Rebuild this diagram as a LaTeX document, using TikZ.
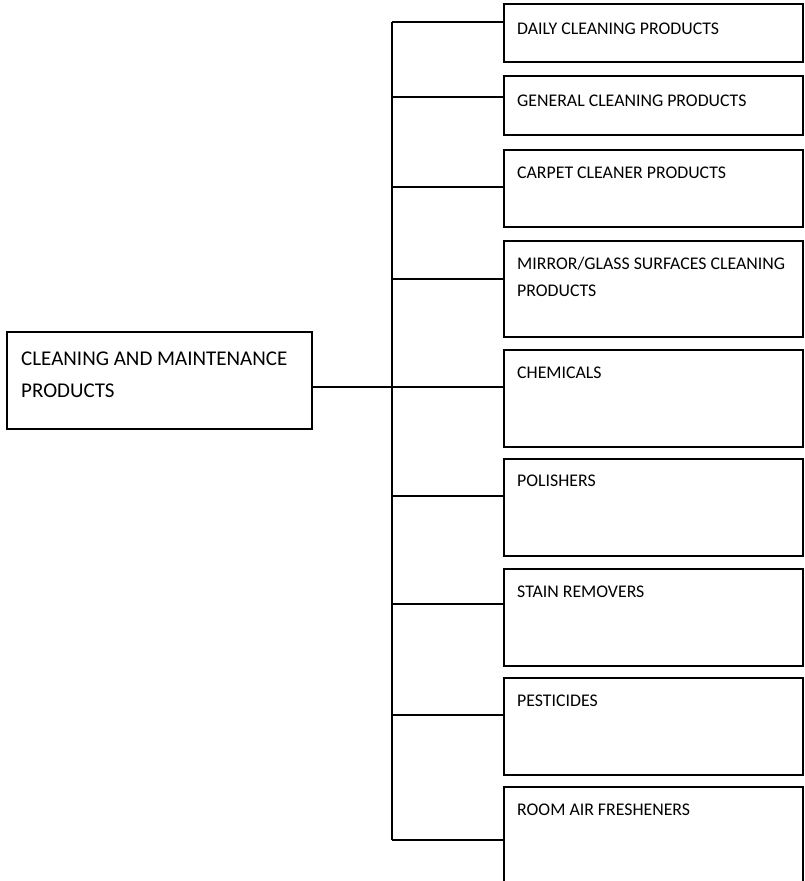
\documentclass[tikz,border=0pt]{standalone}
\usepackage{fontspec}
\setmainfont{Carlito}
\usetikzlibrary{calc}
\begin{document}
\begin{tikzpicture}[x=1pt,y=-1pt,
  box/.style={draw, line width=1.4pt, rectangle, outer sep=0pt, inner sep=0pt, anchor=north west, minimum width=299pt},
  boxtext/.style={anchor=base west, inner sep=0pt, font=\fontsize{17.8}{27}\selectfont, align=left},
  maintext/.style={anchor=base west, inner sep=0pt, font=\fontsize{21}{32}\selectfont, align=left},
  conn/.style={line width=1.4pt}]
\clip (0,0) rectangle (805,881);
% main box
\node[box, minimum width=305pt, minimum height=97pt] (m) at (7,332) {};
\node[maintext] (mt) at ($(m.north west)+(14,65.5)$) {CLEANING AND MAINTENANCE\\PRODUCTS};
% category boxes
\node[box, minimum height=58pt] (b1) at (504,4) {};
\node[box, minimum height=59pt] (b2) at (504,76) {};
\node[box, minimum height=77pt] (b3) at (504,150) {};
\node[box, minimum height=96pt] (b4) at (504,241) {};
\node[box, minimum height=97pt] (b5) at (504,350) {};
\node[box, minimum height=97pt] (b6) at (504,459) {};
\node[box, minimum height=97pt] (b7) at (504,569) {};
\node[box, minimum height=97pt] (b8) at (504,678) {};
\node[box, minimum height=140pt] (b9) at (504,787) {};
\node[boxtext] (l1) at ($(b1.north west)+(13,30)$) {DAILY CLEANING PRODUCTS};
\node[boxtext] (l2) at ($(b2.north west)+(13,30)$) {GENERAL CLEANING PRODUCTS};
\node[boxtext] (l3) at ($(b3.north west)+(13,28)$) {CARPET CLEANER PRODUCTS};
\node[boxtext] (l4) at ($(b4.north west)+(13,55)$) {MIRROR/GLASS SURFACES CLEANING\\PRODUCTS};
\node[boxtext] (l5) at ($(b5.north west)+(13,28)$) {CHEMICALS};
\node[boxtext] (l6) at ($(b6.north west)+(13,27)$) {POLISHERS};
\node[boxtext] (l7) at ($(b7.north west)+(13,28)$) {STAIN REMOVERS};
\node[boxtext] (l8) at ($(b8.north west)+(13,28)$) {PESTICIDES};
\node[boxtext] (l9) at ($(b9.north west)+(13,28.5)$) {ROOM AIR FRESHENERS};
% trunk points
\coordinate (t1) at (392,22);
\coordinate (t2) at (392,97);
\coordinate (t3) at (392,187);
\coordinate (t4) at (392,279);
\coordinate (t5) at (392,387);
\coordinate (t6) at (392,496);
\coordinate (t7) at (392,604);
\coordinate (t8) at (392,715);
\coordinate (t9) at (392,840);
\draw[conn] (t1) -- (t9);
\draw[conn] (m.east |- t5) -- (t5);
\foreach \i in {1,...,9} {
  \draw[conn] (t\i) -- (t\i -| b\i.west);
}
\end{tikzpicture}
\end{document}
